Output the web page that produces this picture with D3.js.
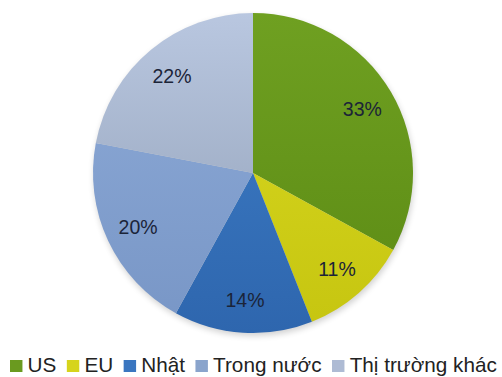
<!DOCTYPE html>
<html>
<head>
<meta charset="utf-8">
<script src="https://cdn.jsdelivr.net/npm/d3@7"></script>
<style>
  html, body { margin: 0; padding: 0; background: #ffffff; }
  svg { display: block; }
</style>
</head>
<body>
<svg id="chart" width="502" height="377"></svg>
<script>
const categories = ["US", "EU", "Nhật", "Trong nước", "Thị trường khác"];
const values = [33, 11, 14, 20, 22];
const labels = ["33%", "11%", "14%", "20%", "22%"];
const colorsTop = ["#6fa021", "#dada22", "#3f7fc8", "#8eabd8", "#b9c7e0"];
const colorsBottom = ["#5b8a14", "#c6c510", "#2e66ae", "#7896c6", "#8e9db4"];
const legendColors = ["#6a9a1f", "#d6d41c", "#3a76c0", "#8aa4cc", "#aebbd4"];

const svg = d3.select("#chart");
const cx = 253, cy = 173, r = 160;

const defs = svg.append("defs");
const shadow = defs.append("filter").attr("id", "shadow")
  .attr("x", "-20%").attr("y", "-20%").attr("width", "140%").attr("height", "140%");
shadow.append("feGaussianBlur").attr("stdDeviation", 3);

categories.forEach((c, i) => {
  const g = defs.append("linearGradient")
    .attr("id", "grad" + i)
    .attr("gradientUnits", "userSpaceOnUse")
    .attr("x1", 0).attr("y1", -r).attr("x2", 0).attr("y2", r);
  g.append("stop").attr("offset", "0%").attr("stop-color", colorsTop[i]);
  g.append("stop").attr("offset", "100%").attr("stop-color", colorsBottom[i]);
});

const data = categories.map((c, i) => ({ cat: c, value: values[i], label: labels[i], i }));
const pie = d3.pie().sort(null).value(d => d.value);
const arcs = pie(data);
const arc = d3.arc().innerRadius(0).outerRadius(r);
const labelArc = d3.arc().innerRadius(127).outerRadius(127);

const g = svg.append("g").attr("transform", `translate(${cx},${cy})`);
g.append("circle").attr("cx", 1).attr("cy", 3).attr("r", r)
  .attr("fill", "#000").attr("opacity", 0.18).attr("filter", "url(#shadow)");

g.selectAll("path.slice").data(arcs).enter().append("path")
  .attr("class", "slice")
  .attr("d", arc)
  .attr("fill", d => `url(#grad${d.data.i})`);

g.selectAll("text.lbl").data(arcs).enter().append("text")
  .attr("class", "lbl")
  .attr("transform", d => { const p = labelArc.centroid(d); return `translate(${p[0]},${p[1]}) scale(0.93,1)`; })
  .attr("text-anchor", "middle")
  .attr("dy", "0.35em")
  .style("font-family", "'Liberation Sans', Arial, sans-serif")
  .style("font-size", "21px")
  .attr("fill", "#1b2438")
  .text(d => d.data.label);

// Legend
const legend = svg.append("g");
const sq = 12, gapIn = 5, gapOut = 10;
let x = 0;
categories.forEach((c, i) => {
  const item = legend.append("g").attr("transform", `translate(${x},0)`);
  item.append("rect").attr("x", 0).attr("y", -12).attr("width", sq).attr("height", sq)
    .attr("fill", legendColors[i]);
  const t = item.append("text").attr("x", sq + gapIn).attr("y", 0)
    .style("font-family", "'Liberation Sans', Arial, sans-serif")
    .style("font-size", "20px")
    .attr("fill", "#222")
    .text(c);
  x += sq + gapIn + t.node().getComputedTextLength() + gapOut;
});
const totalW = x - gapOut;
const targetL = 10, targetR = 497;
const sx = (targetR - targetL) / totalW;
legend.attr("transform", `translate(${targetL},372) scale(${sx},1)`);
</script>
</body>
</html>
